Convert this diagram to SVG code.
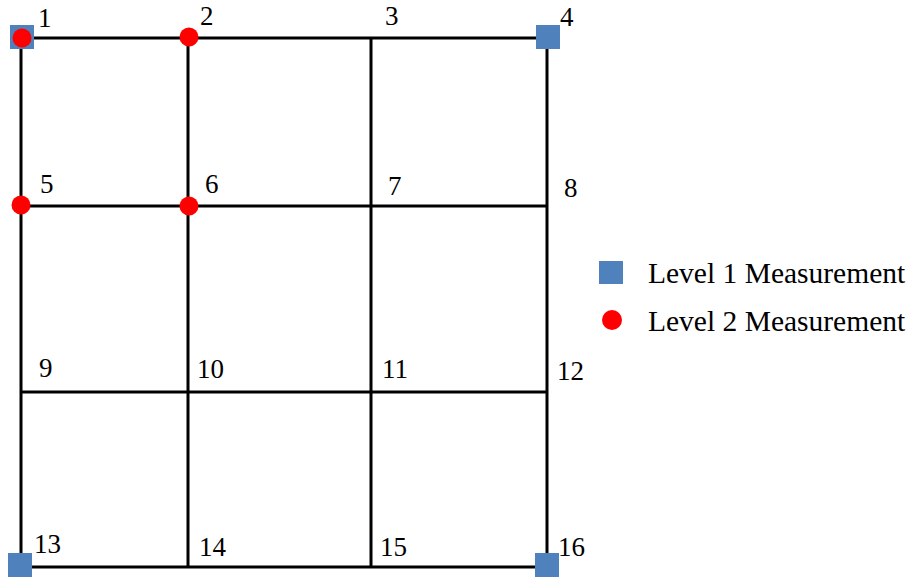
<svg xmlns="http://www.w3.org/2000/svg" width="915" height="580" viewBox="0 0 915 580">
<style>
.ln{stroke:#000;stroke-width:3;fill:none}
.sq{fill:#4F81BD}
.ci{fill:#FF0000}
.lb{font-family:'Liberation Serif','Times New Roman',serif;font-size:27px;fill:#000}
.lg{font-family:'Liberation Serif','Times New Roman',serif;font-size:29.5px;fill:#000}
</style>
<rect width="915" height="580" fill="#fff"/>
<g id="connectors">
<line class="ln" x1="21" y1="38" x2="547" y2="38"/>
<line class="ln" x1="21" y1="206" x2="547" y2="206"/>
<line class="ln" x1="21" y1="392" x2="547" y2="392"/>
<line class="ln" x1="21" y1="567" x2="547" y2="567"/>
<line class="ln" x1="21" y1="38" x2="21" y2="567"/>
<line class="ln" x1="188" y1="38" x2="188" y2="567"/>
<line class="ln" x1="371" y1="38" x2="371" y2="567"/>
<line class="ln" x1="547" y1="38" x2="547" y2="567"/>
</g>
<g id="n1"><rect class="sq" x="10" y="25" width="24" height="24"/><circle class="ci" cx="22" cy="38" r="9.5"/><text class="lb" x="38" y="27">1</text></g>
<g id="n2"><circle class="ci" cx="189" cy="37" r="9.5"/><text class="lb" x="200" y="25">2</text></g>
<g id="n3"><text class="lb" x="385" y="25">3</text></g>
<g id="n4"><rect class="sq" x="536" y="25" width="24" height="24"/><text class="lb" x="560" y="26">4</text></g>
<g id="n5"><circle class="ci" cx="21" cy="205" r="9.5"/><text class="lb" x="40" y="193">5</text></g>
<g id="n6"><circle class="ci" cx="189" cy="206" r="9.5"/><text class="lb" x="205" y="193">6</text></g>
<g id="n7"><text class="lb" x="388" y="195">7</text></g>
<g id="n8"><text class="lb" x="564" y="197">8</text></g>
<g id="n9"><text class="lb" x="39" y="377">9</text></g>
<g id="n10"><text class="lb" x="197" y="378">10</text></g>
<g id="n11"><text class="lb" x="382" y="378">11</text></g>
<g id="n12"><text class="lb" x="557" y="380">12</text></g>
<g id="n13"><rect class="sq" x="8" y="553" width="24" height="24"/><text class="lb" x="34" y="553">13</text></g>
<g id="n14"><text class="lb" x="199" y="556">14</text></g>
<g id="n15"><text class="lb" x="380" y="556">15</text></g>
<g id="n16"><rect class="sq" x="535" y="553" width="24" height="24"/><text class="lb" x="558" y="556">16</text></g>
<g id="legend">
<rect class="sq" x="599" y="261" width="24" height="23"/>
<text class="lg" x="648" y="283">Level 1 Measurement</text>
<circle class="ci" cx="612" cy="320" r="10"/>
<text class="lg" x="648" y="331">Level 2 Measurement</text>
</g>
</svg>
